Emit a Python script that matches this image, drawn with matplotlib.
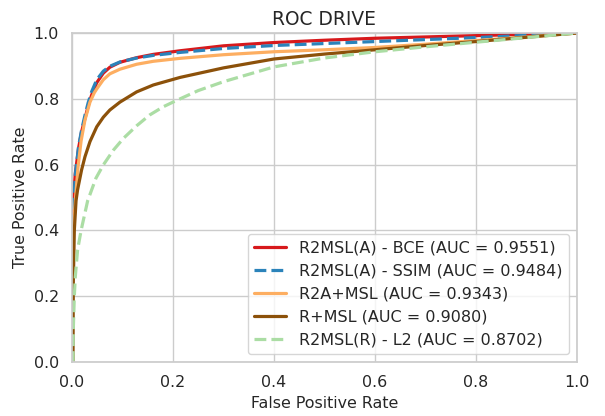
import matplotlib
matplotlib.use("Agg")
import matplotlib.pyplot as plt
import seaborn as sns

sns.set_theme(style="whitegrid")
plt.rcParams['font.family'] = ['DejaVu Sans']

# ROC curves on the DRIVE dataset
labels = [
    "R2MSL(A) - BCE (AUC = 0.9551)",
    "R2MSL(A) - SSIM (AUC = 0.9484)",
    "R2A+MSL (AUC = 0.9343)",
    "R+MSL (AUC = 0.9080)",
    "R2MSL(R) - L2 (AUC = 0.8702)",
]

fpr_bce = [0, 0.001, 0.0026, 0.0066, 0.013, 0.019, 0.026, 0.032, 0.039, 0.049, 0.062, 0.075,
           0.095, 0.128, 0.161, 0.214, 0.3, 0.4, 0.5, 0.6, 0.7, 0.8, 0.9, 1.0]
tpr_bce = [0, 0.32, 0.49, 0.574, 0.65, 0.70, 0.742, 0.778, 0.812, 0.849, 0.878, 0.896,
           0.911, 0.925, 0.935, 0.946, 0.961, 0.971, 0.978, 0.984, 0.988, 0.992, 0.996, 1.0]

fpr_ssim = [0, 0.001, 0.0026, 0.0066, 0.013, 0.019, 0.026, 0.032, 0.039, 0.049, 0.062, 0.075,
            0.095, 0.128, 0.161, 0.214, 0.3, 0.4, 0.5, 0.6, 0.7, 0.8, 0.9, 1.0]
tpr_ssim = [0, 0.30, 0.47, 0.57, 0.655, 0.705, 0.752, 0.788, 0.822, 0.858, 0.884, 0.899,
            0.912, 0.924, 0.932, 0.941, 0.953, 0.962, 0.968, 0.974, 0.980, 0.986, 0.993, 1.0]

fpr_r2a = [0, 0.001, 0.0026, 0.0066, 0.012, 0.018, 0.0257, 0.0356, 0.044, 0.049, 0.062, 0.075,
           0.095, 0.128, 0.161, 0.214, 0.3, 0.4, 0.5, 0.6, 0.7, 0.8, 0.9, 1.0]
tpr_r2a = [0, 0.28, 0.40, 0.49, 0.594, 0.672, 0.736, 0.790, 0.818, 0.830, 0.858, 0.876,
           0.890, 0.905, 0.914, 0.923, 0.934, 0.943, 0.949, 0.956, 0.966, 0.977, 0.988, 1.0]

fpr_rmsl = [0, 0.002, 0.0026, 0.0046, 0.008, 0.011, 0.019, 0.0257, 0.0356, 0.049, 0.062, 0.075,
            0.095, 0.128, 0.161, 0.214, 0.3, 0.4, 0.5, 0.6, 0.7, 0.8, 0.9, 1.0]
tpr_rmsl = [0, 0.0, 0.24, 0.40, 0.49, 0.523, 0.584, 0.624, 0.670, 0.715, 0.744, 0.766,
            0.790, 0.821, 0.842, 0.865, 0.894, 0.921, 0.936, 0.949, 0.962, 0.974, 0.987, 1.0]

fpr_l2 = [0, 0.002, 0.0026, 0.0046, 0.0066, 0.011, 0.018, 0.031, 0.0475, 0.062, 0.082, 0.102,
          0.128, 0.154, 0.181, 0.207, 0.25, 0.3, 0.4, 0.5, 0.6, 0.7, 0.8, 0.9, 1.0]
tpr_l2 = [0, 0.0, 0.10, 0.20, 0.26, 0.34, 0.40, 0.49, 0.559, 0.599, 0.644, 0.680,
          0.718, 0.751, 0.776, 0.795, 0.825, 0.852, 0.897, 0.924, 0.943, 0.958, 0.972, 0.986, 1.0]

curves = [
    (fpr_bce, tpr_bce, '#d7191c', '-'),
    (fpr_ssim, tpr_ssim, '#2b83ba', '--'),
    (fpr_r2a, tpr_r2a, '#fdae61', '-'),
    (fpr_rmsl, tpr_rmsl, '#8c510a', '-'),
    (fpr_l2, tpr_l2, '#abdda4', '--'),
]

fig = plt.figure(figsize=(6.05, 4.16), dpi=100)
ax = fig.add_axes([72 / 605, 1 - 362 / 416, 505 / 605, 329 / 416])

for (x, y, c, ls), lab in zip(curves, labels):
    ax.plot(x, y, color=c, linestyle=ls, linewidth=2.3, label=lab)

ax.set_xlim(0, 1)
ax.set_ylim(0, 1)
ax.set_xticks([0, 0.2, 0.4, 0.6, 0.8, 1.0])
ax.set_yticks([0, 0.2, 0.4, 0.6, 0.8, 1.0])
ax.tick_params(labelsize=11.4)
ax.set_xlabel("False Positive Rate", fontsize=11.4)
ax.set_ylabel("True Positive Rate", fontsize=11.4)
ax.set_title("ROC DRIVE", fontsize=13.4)
ax.legend(loc="lower right", fontsize=11.5, frameon=True)

fig.savefig("out.png", dpi=100)
